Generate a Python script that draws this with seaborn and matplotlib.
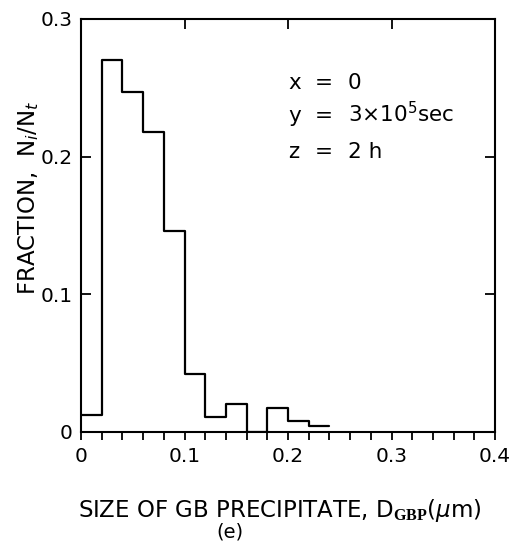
import numpy as np
import pandas as pd
import matplotlib
matplotlib.use("Agg")
import matplotlib.pyplot as plt
from matplotlib.ticker import MultipleLocator
import seaborn as sns

# bin edges (um) and measured fraction N_i/N_t per bin
bin_edges = [0.0, 0.02, 0.04, 0.06, 0.08, 0.10, 0.12, 0.14, 0.16, 0.18, 0.20, 0.22, 0.24]
fraction = [0.012, 0.270, 0.247, 0.218, 0.146, 0.042, 0.011, 0.020, 0.0, 0.017, 0.008, 0.004]
x_ticks = [0, 0.1, 0.2, 0.3, 0.4]
x_tick_labels = ["0", "0.1", "0.2", "0.3", "0.4"]
y_ticks = [0, 0.1, 0.2, 0.3]
y_tick_labels = ["0", "0.1", "0.2", "0.3"]

centers = [(a + b) / 2 for a, b in zip(bin_edges[:-1], bin_edges[1:])]
df = pd.DataFrame({"size": centers, "fraction": fraction})

sns.set_style("ticks")
plt.rcParams["font.family"] = ["DejaVu Sans"]
plt.rcParams["text.color"] = "black"
plt.rcParams["xtick.color"] = "black"
plt.rcParams["ytick.color"] = "black"
plt.rcParams["mathtext.fontset"] = "custom"
plt.rcParams["mathtext.rm"] = "DejaVu Sans"
plt.rcParams["mathtext.it"] = "DejaVu Sans:italic"
plt.rcParams["mathtext.bf"] = "Liberation Serif:bold"

fig = plt.figure(figsize=(5.14, 5.5), dpi=100)
ax = fig.add_axes([0.1576, 0.215, 0.8055, 0.7505])

sns.histplot(data=df, x="size", weights="fraction", bins=bin_edges,
             element="step", fill=False, color="black", linewidth=1.6, ax=ax)

ax.set_xlim(0, 0.4)
ax.set_ylim(0, 0.3)
ax.set_xlabel("")
ax.set_ylabel("")
ax.set_xticks(x_ticks)
ax.set_xticklabels(x_tick_labels)
ax.set_yticks(y_ticks)
ax.set_yticklabels(y_tick_labels)
ax.xaxis.set_minor_locator(MultipleLocator(0.02))
ax.tick_params(axis="x", which="both", direction="out", length=6, width=1.3,
               labelsize=14.5, pad=5, color="black", labelcolor="black")
ax.tick_params(axis="y", direction="in", length=7, width=1.3, labelsize=14.5,
               pad=6, labelcolor="black")
for s in ax.spines.values():
    s.set_visible(True)
    s.set_linewidth(1.5)
    s.set_color("black")

# inward ticks on top and right
top = ax.secondary_xaxis("top")
top.set_xticks([0.1, 0.2, 0.3])
top.tick_params(direction="in", length=7, width=1.3, labeltop=False)
right = ax.secondary_yaxis("right")
right.set_yticks([0.1, 0.2])
right.tick_params(direction="in", length=7, width=1.3, labelright=False)
for sec in (top, right):
    for s in sec.spines.values():
        s.set_visible(False)

# parameter annotation
rows = [("x", "0"), ("y", r"3$\times$10$^5$sec"), ("z", "2 h")]
row_y = [0.830, 0.750, 0.663]
for (name, val), yy in zip(rows, row_y):
    ax.text(0.50, yy, name, transform=ax.transAxes, fontsize=15.5, va="baseline")
    ax.text(0.565, yy, "=", transform=ax.transAxes, fontsize=15.5, va="baseline")
    ax.text(0.645, yy, val, transform=ax.transAxes, fontsize=15.5, va="baseline")

fig.text(0.545, 0.06, r"SIZE OF GB PRECIPITATE, D$_{\mathbf{GBP}}$($\mu$m)",
         ha="center", va="baseline", fontsize=16.5)
fig.text(0.447, 0.022, "(e)", ha="center", va="baseline", fontsize=14)
fig.text(0.056, 0.64, r"FRACTION,  N$_i$/N$_t$", rotation=90,
         ha="center", va="center", fontsize=16.5)

fig.savefig("out.png", dpi=100)
